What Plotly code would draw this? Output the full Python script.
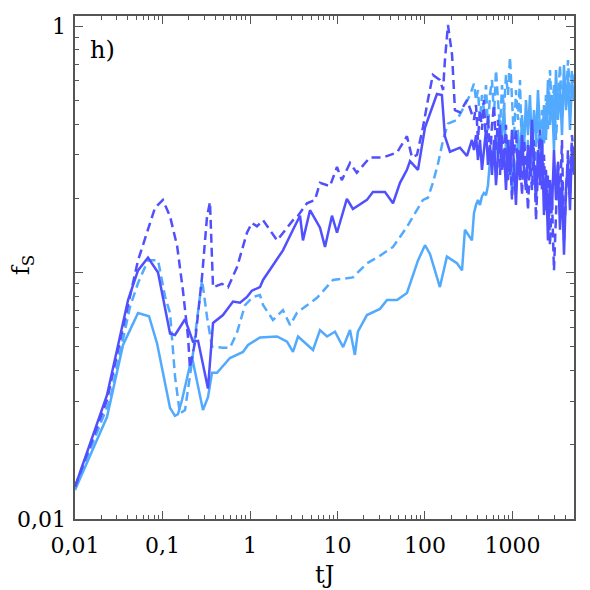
import plotly.graph_objects as go

# ---- data ----
# dark blue, solid
tA = [0.01, 0.0232, 0.0404, 0.0525, 0.0683, 0.0889, 0.122, 0.139, 0.181, 0.223, 0.255, 0.331, 0.378,
      0.491, 0.640, 0.770, 0.924, 1.05, 1.30, 1.41, 1.83, 2.38, 3.10, 3.54, 3.73, 4.03, 4.85, 6.31, 7.20,
      8.65, 9.87, 12.8, 15.0, 21.7, 25.4, 34.9, 43.1, 51.8, 62.2, 67.4, 83.2, 100, 120, 137, 156, 169,
      193, 251, 302, 344]
fA = [0.0135, 0.0318, 0.0773, 0.102, 0.115, 0.100, 0.0566, 0.0558, 0.0646, 0.0524, 0.0528, 0.0338, 0.0624,
      0.0672, 0.0762, 0.0754, 0.0796, 0.0844, 0.0872, 0.0933, 0.107, 0.123, 0.149, 0.163, 0.170, 0.135, 0.179,
      0.152, 0.127, 0.170, 0.145, 0.199, 0.181, 0.197, 0.212, 0.212, 0.191, 0.231, 0.261, 0.283, 0.261, 0.387,
      0.468, 0.530, 0.525, 0.357, 0.309, 0.321, 0.297, 0.345]

# dark blue, dashed
tB = [0.01, 0.0232, 0.0525, 0.0821, 0.101, 0.122, 0.147, 0.171, 0.196, 0.206, 0.235, 0.268, 0.283, 0.323,
      0.349, 0.378, 0.478, 0.561, 0.710, 0.924, 1.05, 1.20, 1.41, 2.04, 2.65, 3.10, 3.54, 4.48, 5.53, 6.31,
      8.20, 9.87, 11.2, 13.9, 16.6, 23.5, 33.1, 47.9, 62.2, 71.0, 81.0, 94.9, 108, 123, 148, 161, 169, 183,
      204, 220, 251, 302]
fB = [0.0135, 0.0304, 0.112, 0.183, 0.197, 0.169, 0.128, 0.0849, 0.0546, 0.0410, 0.0520, 0.0773, 0.0960,
      0.169, 0.193, 0.0871, 0.0900, 0.0871, 0.105, 0.145, 0.159, 0.154, 0.163, 0.135, 0.152, 0.163, 0.170,
      0.191, 0.197, 0.231, 0.224, 0.268, 0.237, 0.278, 0.254, 0.293, 0.293, 0.307, 0.357, 0.293, 0.300,
      0.389, 0.501, 0.633, 0.604, 0.550, 0.728, 1.01, 0.763, 0.456, 0.446, 0.501]

# light blue, solid
tC = [0.01, 0.0232, 0.0354, 0.0525, 0.0701, 0.0866, 0.122, 0.139, 0.150, 0.167, 0.217, 0.248, 0.290, 0.331,
      0.368, 0.420, 0.590, 0.832, 0.949, 1.30, 2.04, 2.65, 3.10, 3.54, 5.25, 6.31, 7.59, 9.36, 11.6, 13.9,
      15.8, 17.1, 21.7, 30.6, 36.8, 47.9, 62.2, 83.2, 100, 114, 148, 178, 232, 265, 286, 344]
fC = [0.0131, 0.0259, 0.0508, 0.0685, 0.0665, 0.0516, 0.0282, 0.0262, 0.0266, 0.0304, 0.0455, 0.0365,
      0.0277, 0.0312, 0.0392, 0.0392, 0.0450, 0.0476, 0.0508, 0.0545, 0.0550, 0.0524, 0.0476, 0.0550,
      0.0485, 0.0584, 0.0550, 0.0575, 0.0498, 0.0584, 0.0463, 0.0575, 0.0672, 0.0712, 0.0773, 0.0773,
      0.0826, 0.112, 0.129, 0.119, 0.0873, 0.116, 0.109, 0.102, 0.149, 0.135]

# light blue, dashed
tD = [0.01, 0.0251, 0.0425, 0.0525, 0.0683, 0.0889, 0.107, 0.122, 0.139, 0.158, 0.181, 0.217, 0.248, 0.283,
      0.323, 0.368, 0.491, 0.590, 0.710, 0.877, 1.08, 1.30, 1.41, 1.83, 2.38, 2.87, 3.44, 5.83, 8.89, 15.0,
      21.7, 30.6, 43.1, 62.2, 76.9, 94.9, 108, 123, 141, 161, 183, 232, 272, 327]
fD = [0.0134, 0.0304, 0.0725, 0.0906, 0.112, 0.112, 0.0799, 0.0685, 0.0379, 0.0268, 0.0277, 0.0433, 0.0642,
      0.0933, 0.0659, 0.0500, 0.0495, 0.0495, 0.0570, 0.0738, 0.0796, 0.0810, 0.0738, 0.0642, 0.0704,
      0.0612, 0.0686, 0.0789, 0.0933, 0.0955, 0.109, 0.117, 0.127, 0.153, 0.174, 0.197, 0.201, 0.231,
      0.277, 0.345, 0.402, 0.416, 0.462, 0.525]

# late-time (fluctuating) part, shared time grid
t_late = [363, 383, 403, 425, 448, 472, 498, 525, 553, 583, 615, 648, 683, 720, 759, 800, 843, 889, 936,
          987, 1040, 1096, 1156, 1218, 1284, 1353, 1426, 1503, 1585, 1670, 1760, 1856, 1956, 2061, 2173,
          2290, 2414, 2544, 2682, 2827, 2980, 3141, 3311, 3490, 3678, 3877, 4086, 4307, 4540, 4786, 5045]
fA_late = [0.314, 0.361, 0.286, 0.345, 0.261, 0.314, 0.379, 0.273, 0.329, 0.249, 0.345, 0.226, 0.314, 0.397,
           0.261, 0.314, 0.216, 0.345, 0.249, 0.379, 0.273, 0.188, 0.314, 0.237, 0.361, 0.261, 0.216, 0.329,
           0.249, 0.416, 0.273, 0.197, 0.314, 0.226, 0.345, 0.171, 0.261, 0.135, 0.237, 0.179, 0.314, 0.197,
           0.273, 0.149, 0.237, 0.118, 0.216, 0.286, 0.179, 0.329, 0.249]
fB_late = [0.416, 0.478, 0.345, 0.456, 0.379, 0.501, 0.329, 0.435, 0.286, 0.397, 0.478, 0.314, 0.416, 0.249,
           0.361, 0.286, 0.397, 0.237, 0.329, 0.197, 0.300, 0.379, 0.249, 0.314, 0.206, 0.345, 0.273, 0.179,
           0.286, 0.216, 0.345, 0.163, 0.261, 0.379, 0.216, 0.300, 0.179, 0.249, 0.129, 0.197, 0.102, 0.171,
           0.286, 0.197, 0.345, 0.135, 0.226, 0.314, 0.206, 0.361, 0.286]
fC_late = [0.174, 0.188, 0.197, 0.188, 0.204, 0.210, 0.206, 0.226, 0.286, 0.310, 0.273, 0.361, 0.286, 0.416,
           0.345, 0.478, 0.314, 0.249, 0.345, 0.206, 0.286, 0.216, 0.379, 0.261, 0.435, 0.314, 0.501, 0.361,
           0.525, 0.314, 0.456, 0.345, 0.550, 0.379, 0.286, 0.478, 0.345, 0.604, 0.397, 0.525, 0.314, 0.663,
           0.416, 0.576, 0.361, 0.695, 0.456, 0.633, 0.379, 0.604, 0.501]
fD_late = [0.584, 0.501, 0.550, 0.416, 0.525, 0.456, 0.576, 0.379, 0.525, 0.604, 0.435, 0.663, 0.501, 0.379,
           0.576, 0.456, 0.633, 0.525, 0.748, 0.478, 0.345, 0.550, 0.416, 0.604, 0.286, 0.379, 0.237, 0.345,
           0.261, 0.397, 0.226, 0.314, 0.416, 0.286, 0.456, 0.329, 0.525, 0.379, 0.663, 0.435, 0.576, 0.345,
           0.525, 0.695, 0.416, 0.633, 0.478, 0.728, 0.525, 0.663, 0.550]

x_tickvals = [0.01, 0.1, 1, 10, 100, 1000]
x_ticktext = ["0,01", "0,1", "1", "10", "100", "1000"]
y_major = [0.01, 0.1, 1]
y_labelvals = [0.01, 1]
y_labeltext = ["0,01", "1"]

DARK = "rgb(80,80,255)"
LIGHT = "rgb(82,170,255)"
FONT = "DejaVu Serif"
AXC = "#555"

fig = go.Figure()
series = [
    (tC, fC, fC_late, LIGHT, "solid"),
    (tD, fD, fD_late, LIGHT, "9px,5px"),
    (tA, fA, fA_late, DARK, "solid"),
    (tB, fB, fB_late, DARK, "9px,5px"),
]
for t, f, fl, col, dash in series:
    fig.add_trace(go.Scatter(x=t + t_late, y=f + fl, mode="lines",
                             line=dict(color=col, width=2.5, dash=dash),
                             showlegend=False, hoverinfo="skip"))

minor_x = [m * 10 ** k for k in range(-2, 4) for m in range(2, 10)]
minor_y = [m * 10 ** k for k in range(-2, 0) for m in range(2, 10)]
YR = [-2, 0.0406]

fig.update_xaxes(type="log", range=[-2, 3.703], tickmode="array",
                 tickvals=x_tickvals, ticktext=x_ticktext,
                 showgrid=False, zeroline=False, showline=True, linecolor=AXC, linewidth=2,
                 mirror="ticks", ticks="inside", ticklen=8, tickwidth=1.3, tickcolor=AXC,
                 tickfont=dict(family=FONT, size=22, color="black"), ticklabelstandoff=6,
                 minor=dict(tickmode="array", tickvals=minor_x, ticks="inside", ticklen=4,
                            tickcolor=AXC, tickwidth=1.2),
                 automargin=False)

# main y axis: frame, major + minor ticks (labels carried by the overlay axis)
fig.update_layout(yaxis=dict(type="log", range=YR, tickmode="array", tickvals=y_major,
                             showticklabels=False,
                             showgrid=False, zeroline=False, showline=True, linecolor=AXC, linewidth=2,
                             mirror="ticks", ticks="inside", ticklen=8, tickwidth=1.3, tickcolor=AXC,
                             minor=dict(tickmode="array", tickvals=minor_y, ticks="inside", ticklen=4,
                                        tickcolor=AXC, tickwidth=1.2),
                             automargin=False),
                  yaxis2=dict(type="log", range=YR, overlaying="y", side="left", tickmode="array",
                              tickvals=y_labelvals, ticktext=y_labeltext, ticks="", showline=False,
                              showgrid=False, zeroline=False,
                              tickfont=dict(family=FONT, size=22, color="black"),
                              ticklabelstandoff=8, automargin=False))
# invisible anchor trace for overlay axis
fig.add_trace(go.Scatter(x=[0.01], y=[0.01], yaxis="y2", mode="markers",
                         marker=dict(opacity=0), showlegend=False, hoverinfo="skip"))

# axis titles
fig.add_annotation(text="tJ", xref="paper", yref="paper", x=0.5, y=-0.111,
                   xanchor="center", yanchor="middle", showarrow=False,
                   font=dict(family=FONT, size=24, color="black"))
fig.add_annotation(text="f<sub>S</sub>", xref="paper", yref="paper", x=-0.104, y=0.505,
                   xanchor="center", yanchor="middle", showarrow=False, textangle=-90,
                   font=dict(family=FONT, size=24, color="black"))
fig.add_annotation(text="h)", xref="paper", yref="paper", x=0.026, y=0.932,
                   xanchor="left", yanchor="middle", showarrow=False,
                   font=dict(family=FONT, size=24, color="black"))

# the page body adds an 8px offset; margins compensate so the frame lands where the reference has it
fig.update_layout(width=590, height=590, margin=dict(l=67, r=24, t=8, b=79),
                  paper_bgcolor="white", plot_bgcolor="white")

fig.write_html("out.html")
